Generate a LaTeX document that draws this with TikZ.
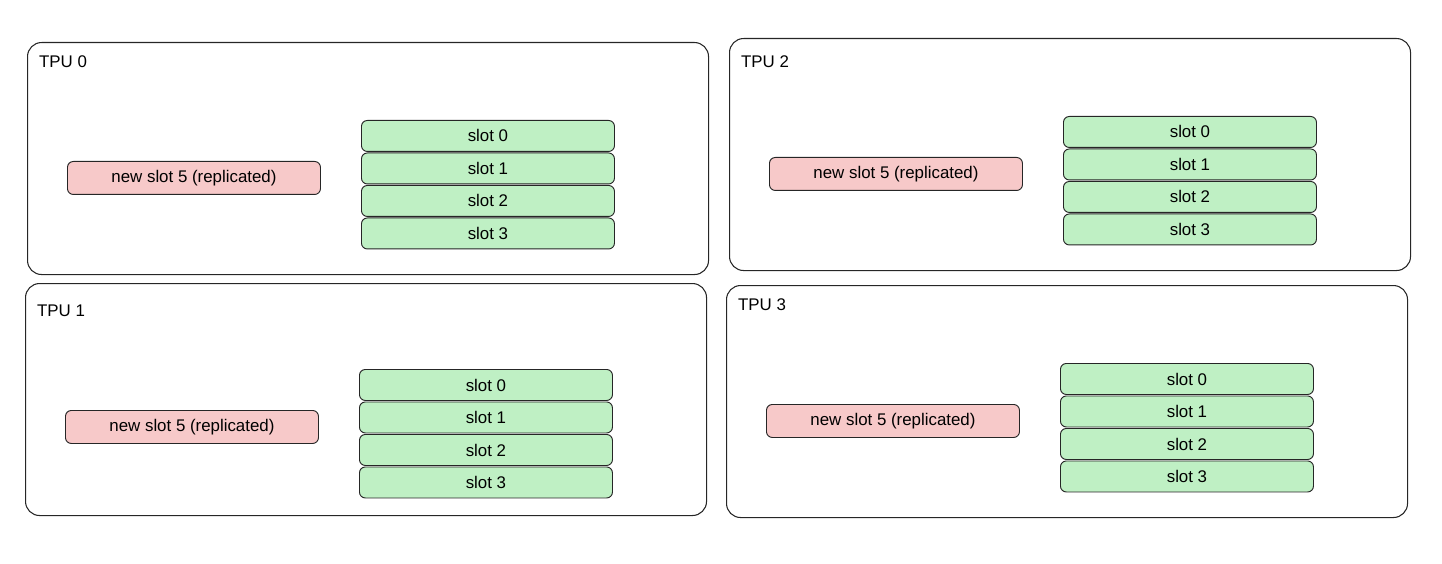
\documentclass[tikz,border=0pt]{standalone}
\usepackage{fontspec}
\setmainfont{Liberation Sans}
\definecolor{slotgreen}{HTML}{BFF0C4}
\definecolor{newred}{HTML}{F7C9C9}
\tikzset{
  tpubox/.style={draw=black!85, rounded corners=12pt, line width=0.9pt, minimum width=681*0.03cm, minimum height=232*0.03cm, anchor=north west},
  slotbox/.style={draw=black!85, fill=slotgreen, rounded corners=5pt, line width=0.8pt, minimum width=253*0.03cm, minimum height=31*0.03cm, anchor=north west, font=\Large},
  newbox/.style={draw=black!85, fill=newred, rounded corners=5pt, line width=0.8pt, minimum width=253*0.03cm, minimum height=33*0.03cm, anchor=north west, font=\Large},
  tpulabel/.style={anchor=west, font=\Large}
}
\begin{document}
\begin{tikzpicture}[x=0.03cm, y=-0.03cm]
    \useasboundingbox (0,0) rectangle (1442,564);
    % Define the panels
    \foreach \px/\py/\ly/\cy/\n in {27/42/20/0/0, 729/38/24/0/2, 25/283/28/8/1, 726/285/20/0/3} {
        \node[tpubox] (tpu\n) at (\px, \py) {};
        \node[tpulabel] (lbl\n) at (\px+8, \py+\ly) {TPU \n};
        \node[newbox] (new\n) at (\px+40, \py+\cy+119) {new slot 5 (replicated)};
        \foreach \s in {0,...,3} {
            \node[slotbox] (slot\n\s) at (\px+334, \py+\cy+78+\s*32.5) {slot \s};
        }
    }
\end{tikzpicture}
\end{document}
